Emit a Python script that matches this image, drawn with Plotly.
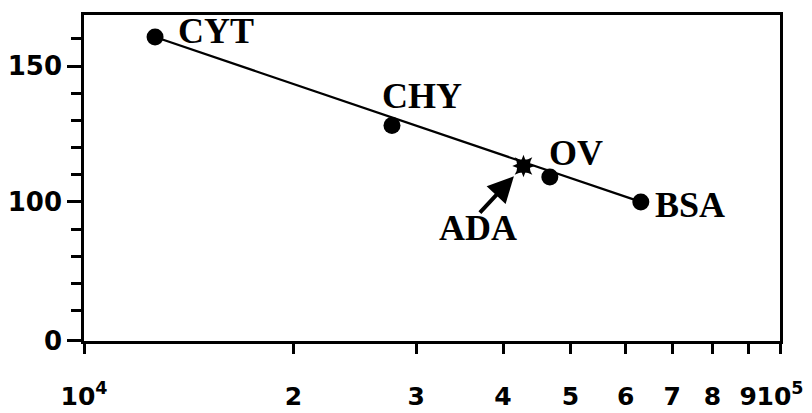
import math
import plotly.graph_objects as go

# ---- data ----
proteins = ["CYT", "CHY", "OV", "BSA"]
mol_weight = [12650, 27700, 46700, 63100]
y_value = [160.7, 128.1, 109.2, 100.0]

ada_name = ["ADA"]
ada_weight = [42800]
ada_value = [113.2]

fit_x = [12650, 63100]
fit_y = [160.7, 100.0]

x_tickvals = [1e4, 2e4, 3e4, 4e4, 5e4, 6e4, 7e4, 8e4, 9e4, 1e5]
x_ticktext = ["10<sup>4</sup>", "2", "3", "4", "5", "6", "7", "8", "9", "10<sup>5</sup>"]

y_major_text = ["0", "100", "150"]
y_major_vals = [48.9, 100, 150]   # "0" marks the broken bottom of the axis
y_minor_vals = [60, 70, 80, 90, 110, 120, 130, 140, 160]

# ---- figure ----
fig = go.Figure()

fig.add_trace(go.Scatter(x=fit_x, y=fit_y, mode="lines",
                         line=dict(color="black", width=2.2),
                         hoverinfo="skip", showlegend=False))

fig.add_trace(go.Scatter(x=mol_weight, y=y_value, mode="markers",
                         marker=dict(color="black", size=17),
                         text=proteins, showlegend=False))

# 8-point star for ADA: two overlaid star shapes
fig.add_trace(go.Scatter(x=ada_weight, y=ada_value, mode="markers",
                         marker=dict(color="black", size=16, symbol="star-square"),
                         showlegend=False))
fig.add_trace(go.Scatter(x=ada_weight, y=ada_value, mode="markers",
                         marker=dict(color="black", size=16, symbol="star-diamond"),
                         showlegend=False))

label_font = dict(family="Liberation Serif", size=36, color="black", weight="bold")
label_offsets = {"CYT": (21, 6), "CHY": (-12, 30), "OV": (-3, 24), "BSA": (12, -3)}
for name, xv, yv in zip(proteins, mol_weight, y_value):
    dx, dy = label_offsets[name]
    # annotations on a log axis are positioned in log10 units
    fig.add_annotation(x=math.log10(xv), y=yv, xref="x", yref="y", text=name,
                       showarrow=False, xanchor="left", yanchor="middle",
                       xshift=dx, yshift=dy, font=label_font)

# ADA label and arrow
ada_lx = math.log10(ada_weight[0])
fig.add_annotation(x=ada_lx, y=ada_value[0], xref="x", yref="y",
                   text=ada_name[0], showarrow=False, xanchor="center",
                   yanchor="middle", xshift=-45, yshift=-62, font=label_font)
fig.add_annotation(x=ada_lx, y=ada_value[0], xref="x", yref="y",
                   text="", showarrow=True, ax=-45, ay=48, axref="pixel", ayref="pixel",
                   arrowhead=2, arrowsize=1.3, arrowwidth=4, arrowcolor="black",
                   standoff=14)

fig.update_xaxes(type="log", range=[4, 5], automargin=False,
                 showline=True, linewidth=2.5, linecolor="black", mirror=True,
                 ticks="outside", ticklen=10, tickwidth=3, tickcolor="black",
                 tickvals=x_tickvals, ticktext=x_ticktext, tickangle=0,
                 tickfont=dict(family="DejaVu Sans", size=25, color="black", weight="bold"),
                 ticklabelstandoff=21,
                 showgrid=False, zeroline=False)

fig.update_yaxes(range=[48.8, 168.8], automargin=False,
                 showline=True, linewidth=2.5, linecolor="black", mirror=True,
                 ticks="outside", ticklen=14, tickwidth=2.5, tickcolor="black",
                 tickvals=y_major_vals, ticktext=y_major_text,
                 tickfont=dict(family="DejaVu Sans", size=26, color="black", weight="bold"),
                 minor=dict(tickvals=y_minor_vals, ticks="outside", ticklen=10,
                            tickwidth=2.5, tickcolor="black", showgrid=False),
                 showgrid=False, zeroline=False)

fig.update_layout(width=812, height=413,
                  margin=dict(l=84, r=32, t=15, b=72),
                  plot_bgcolor="white", paper_bgcolor="white",
                  showlegend=False)

fig.write_html("out.html", config={"displayModeBar": False},
               post_script="document.body.style.margin='0';document.body.style.overflow='hidden';")
